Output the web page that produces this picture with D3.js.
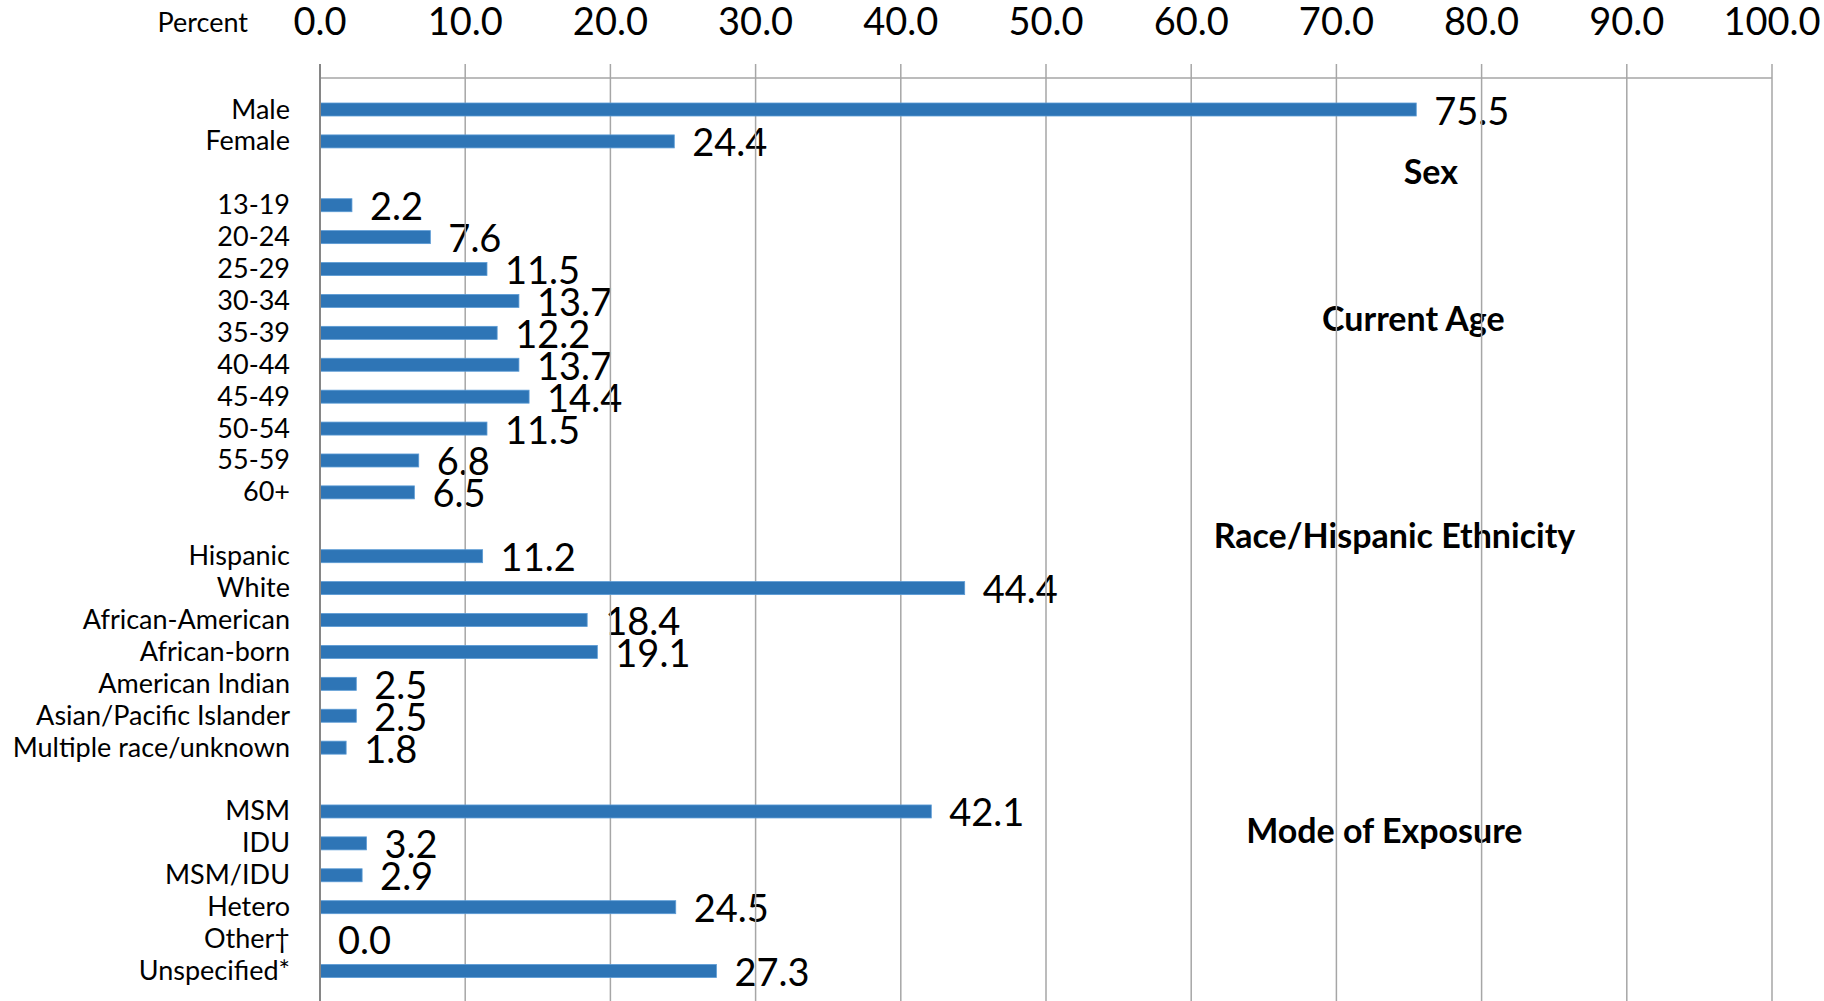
<!DOCTYPE html>
<html>
<head>
<meta charset="utf-8">
<script src="https://cdn.jsdelivr.net/npm/d3@7"></script>
<style>
  body { margin: 0; background: #fff; }
  text { font-family: Lato, "Open Sans", sans-serif; fill: #000; }
</style>
</head>
<body>
<script>
const width = 1824;
const height = 1001;

// rows top to bottom; empty strings are the spacer rows between groups
const categories = [
    'Male', 'Female', '',
    '13-19', '20-24', '25-29', '30-34', '35-39', '40-44', '45-49', '50-54', '55-59', '60+', '',
    'Hispanic', 'White', 'African-American', 'African-born', 'American Indian',
    'Asian/Pacific Islander', 'Multiple race/unknown', '',
    'MSM', 'IDU', 'MSM/IDU', 'Hetero', 'Other\u2020', 'Unspecified*'
];
const values = [
    75.5, 24.4, null,
    2.2, 7.6, 11.5, 13.7, 12.2, 13.7, 14.4, 11.5, 6.8, 6.5, null,
    11.2, 44.4, 18.4, 19.1, 2.5, 2.5, 1.8, null,
    42.1, 3.2, 2.9, 24.5, 0.0, 27.3
];
const groupTitles = ['Sex', 'Current Age', 'Race/Hispanic Ethnicity', 'Mode of Exposure'];
const tickValues = [0, 10, 20, 30, 40, 50, 60, 70, 80, 90, 100];

// where each group title sits: centre in percent units, row position (fractional index)
const titleLayout = [
    {x: 76.5, row: 2.35},
    {x: 75.3, row: 6.95},
    {x: 74.0, row: 13.75},
    {x: 73.3, row: 23.0}
];

const rows = categories.map((c, i) => ({key: i, name: c, value: values[i]}));

const left = 320, right = 1772;
const axisY = 78, gridTop = 64;

const x = d3.scaleLinear().domain([0, 100]).range([left, right]);
const y = d3.scalePoint().domain(rows.map(d => d.key)).range([109.5, 971]);
const yRow = d3.scaleLinear().domain([0, rows.length - 1]).range(y.range());
const barH = 13;

const svg = d3.select('body').append('svg')
    .attr('width', width)
    .attr('height', height);

// tick labels along the top
svg.append('g')
    .attr('transform', `translate(0,${35})`)
    .selectAll('text')
    .data(tickValues)
    .enter().append('text')
    .attr('x', d => x(d))
    .attr('text-anchor', 'middle')
    .attr('font-size', 38)
    .text(d => d3.format('.1f')(d));

svg.append('text')
    .attr('x', 248)
    .attr('y', 32)
    .attr('text-anchor', 'end')
    .attr('font-size', 27)
    .text('Percent');

// category labels
svg.append('g').selectAll('text')
    .data(rows.filter(d => d.name !== ''))
    .enter().append('text')
    .attr('x', 290)
    .attr('y', d => y(d.key) + 9)
    .attr('text-anchor', 'end')
    .attr('font-size', 27)
    .text(d => d.name);

// value labels
svg.append('g').selectAll('text')
    .data(rows.filter(d => d.value !== null))
    .enter().append('text')
    .attr('x', d => x(d.value) + 18)
    .attr('y', d => y(d.key) + 15)
    .attr('font-size', 38)
    .text(d => d3.format('.1f')(d.value));

// group titles
svg.append('g').selectAll('text')
    .data(groupTitles)
    .enter().append('text')
    .attr('x', (d, i) => x(titleLayout[i].x))
    .attr('y', (d, i) => yRow(titleLayout[i].row))
    .attr('text-anchor', 'middle')
    .attr('font-size', 34)
    .attr('font-weight', 'bold')
    .text(d => d);

// gridlines (drawn over the labels, as in the original)
svg.append('g').selectAll('line')
    .data(tickValues.slice(1))
    .enter().append('line')
    .attr('x1', d => x(d)).attr('x2', d => x(d))
    .attr('y1', gridTop).attr('y2', height)
    .attr('stroke', '#a6a6a6')
    .attr('stroke-width', 1.5);

svg.append('line')
    .attr('x1', left).attr('x2', right)
    .attr('y1', axisY).attr('y2', axisY)
    .attr('stroke', '#a6a6a6')
    .attr('stroke-width', 1.5);

// bars
svg.append('g').selectAll('rect')
    .data(rows.filter(d => d.value !== null))
    .enter().append('rect')
    .attr('x', x(0))
    .attr('y', d => y(d.key) - barH / 2)
    .attr('width', d => x(d.value) - x(0))
    .attr('height', barH)
    .attr('fill', '#2e75b6')
    .attr('stroke', '#5b9bd5')
    .attr('stroke-width', 0.8);

// category axis line
svg.append('line')
    .attr('x1', left).attr('x2', left)
    .attr('y1', gridTop).attr('y2', height)
    .attr('stroke', '#868686')
    .attr('stroke-width', 2);
</script>
</body>
</html>
